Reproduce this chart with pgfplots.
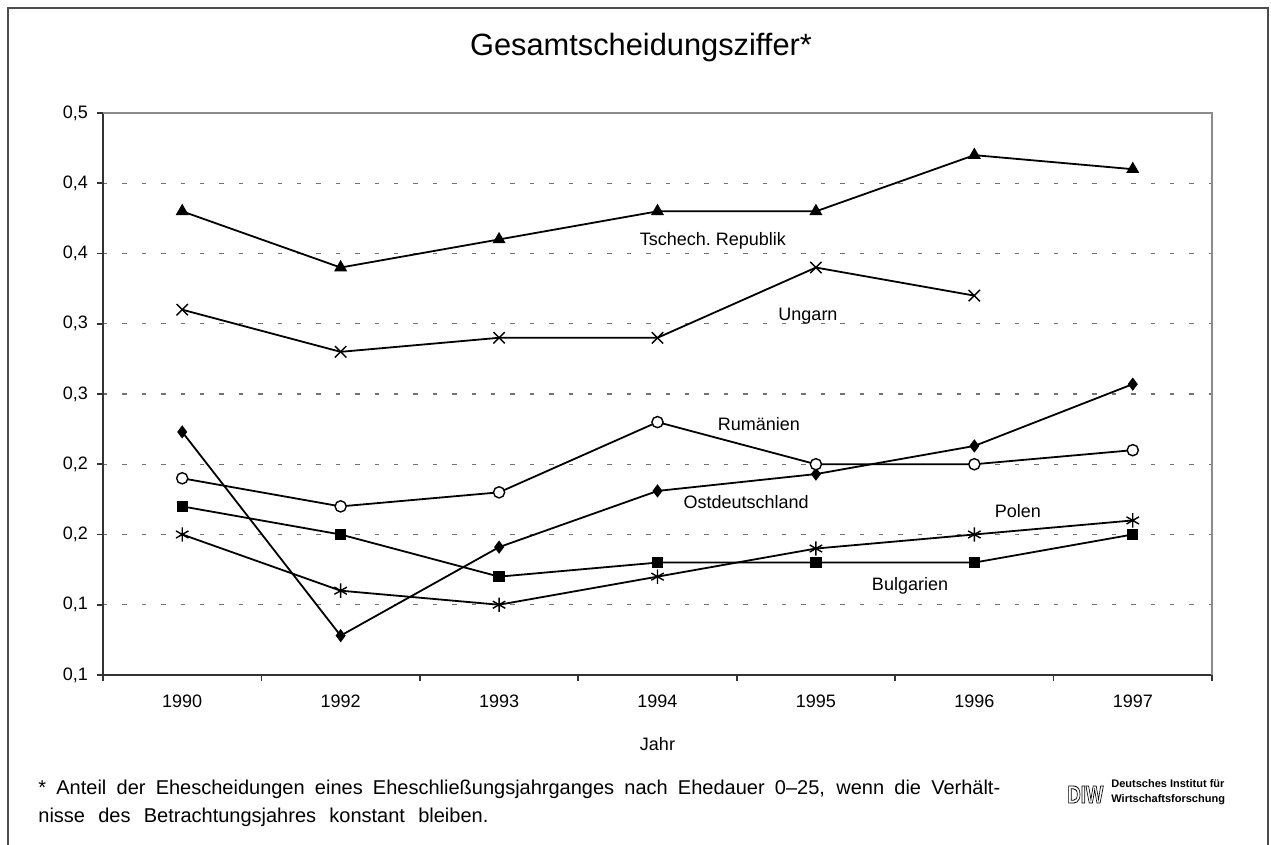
\documentclass[border=0pt]{standalone}
\usepackage{fontspec}
\setmainfont{Liberation Sans}
\usepackage{graphicx}
\usepackage{pgfplots}
\pgfplotsset{compat=1.18}
\begin{document}
\begin{tikzpicture}[x=0.5pt,y=0.5pt]
\useasboundingbox (0,0) rectangle (1271,845);
\draw[black!70, line width=1pt] (8,0) -- (8,837) -- (1268,837) -- (1268,0);
\node[font=\fontsize{15.4}{18}\selectfont] at (641,797) {Gesamtscheidungsziffer*};
\begin{axis}[
 at={(51.5pt,85pt)}, anchor=south west, scale only axis,
 width=554.5pt, height=281pt,
 xmin=-0.5, xmax=6.5, ymin=0.1, ymax=0.5,
 axis x line*=bottom, axis y line*=left,
 axis line style={black!80, line width=1pt},
 xtick={0,1,2,3,4,5,6},
 xticklabels={1990,1992,1993,1994,1995,1996,1997},
 minor xtick={-0.5,0.5,1.5,2.5,3.5,4.5,5.5,6.5},
 ytick={0.1,0.15,0.2,0.25,0.3,0.35,0.4,0.45,0.5},
 yticklabels={{0,1},{0,1},{0,2},{0,2},{0,3},{0,3},{0,4},{0,4},{0,5}},
 tick align=outside, major tick length=3pt, minor tick length=3pt,
 tick style={black!80, line width=0.8pt},
 major x tick style={draw=none},
 ymajorgrids,
 major grid style={black!55, line width=0.6pt, dash pattern=on 2.2pt off 7.5pt},
 ticklabel style={font=\fontsize{9}{11}\selectfont},
 xticklabel style={yshift=-3.5pt},
 yticklabel style={xshift=-1pt},
 xlabel={Jahr},
 xlabel style={font=\fontsize{9}{11}\selectfont, at={(axis description cs:0.5,0)}, anchor=center, yshift=-34.5pt},
 clip=false,
 every axis plot/.append style={black, line width=0.9pt},
]
\draw[black!45, line width=0.8pt] (rel axis cs:0,1) -- (rel axis cs:1,1) -- (rel axis cs:1,0);
% Tschech. Republik
\addplot[mark=triangle*, mark size=2.9pt, mark options={solid}] coordinates {(0,0.43)(1,0.39)(2,0.41)(3,0.43)(4,0.43)(5,0.47)(6,0.46)};
% Ungarn
\addplot[mark=x, mark size=4pt, mark options={line width=0.7pt}] coordinates {(0,0.36)(1,0.33)(2,0.34)(3,0.34)(4,0.39)(5,0.37)};
% Ostdeutschland
\addplot[mark=diamond*, mark size=2.6pt] coordinates {(0,0.273)(1,0.128)(2,0.191)(3,0.231)(4,0.243)(5,0.263)(6,0.307)};
% Rumaenien
\addplot[mark=*, mark size=2.8pt, mark options={fill=white, line width=0.7pt}] coordinates {(0,0.24)(1,0.22)(2,0.23)(3,0.28)(4,0.25)(5,0.25)(6,0.26)};
% Bulgarien
\addplot[mark=square*, mark size=2.4pt] coordinates {(0,0.22)(1,0.20)(2,0.17)(3,0.18)(4,0.18)(5,0.18)(6,0.20)};
% Polen
\addplot[mark=asterisk, mark size=3.6pt, mark options={line width=0.7pt}] coordinates {(0,0.20)(1,0.16)(2,0.15)(3,0.17)(4,0.19)(5,0.20)(6,0.21)};
\begin{scope}[every node/.style={font=\fontsize{9}{11}\selectfont}]
\node at (axis cs:3.35,0.409) {Tschech.\ Republik};
\node at (axis cs:3.95,0.3555) {Ungarn};
\node at (axis cs:3.64,0.2786) {Rumänien};
\node at (axis cs:3.56,0.2233) {Ostdeutschland};
\node at (axis cs:5.275,0.2167) {Polen};
\node at (axis cs:4.594,0.1636) {Bulgarien};
\end{scope}
\end{axis}
\node[anchor=base west, inner sep=0, font=\fontsize{10}{12}\selectfont] at (38,50) {\makebox[481pt][s]{* Anteil der Ehescheidungen eines Eheschließungsjahrganges nach Ehedauer 0–25, wenn die Verhält-}};
\node[anchor=base west, inner sep=0, font=\fontsize{10}{12}\selectfont] at (38,22) {\makebox[225pt][s]{nisse des Betrachtungsjahres konstant bleiben.}};
% logo
\node[anchor=west, inner sep=0, font=\bfseries] at (1067,50.5) {\resizebox{18pt}{8.5pt}{\special{pdf:literal direct 1 Tr 0.35 w}DIW\special{pdf:literal direct 0 Tr}}};
\node[anchor=base west, inner sep=0, font=\bfseries\fontsize{5.5}{6}\selectfont] at (1111,57) {Deutsches Institut für};
\node[anchor=base west, inner sep=0, font=\bfseries\fontsize{5.5}{6}\selectfont] at (1111,42) {Wirtschaftsforschung};
\end{tikzpicture}
\end{document}
